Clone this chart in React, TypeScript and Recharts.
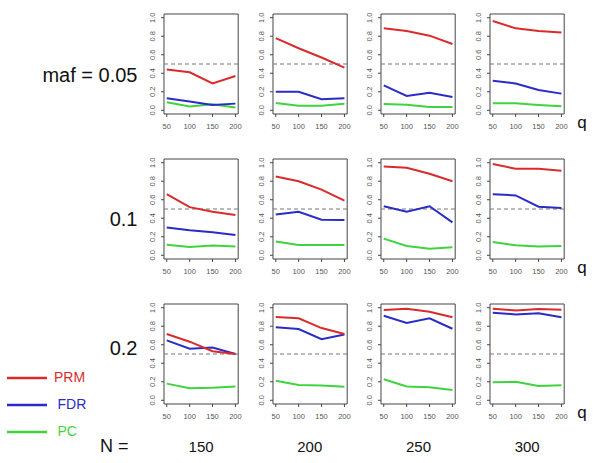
import React from 'react';
import { LineChart, Line, XAxis, YAxis, ReferenceLine, ReferenceArea } from 'recharts';

const Q = [50, 100, 150, 200];
const N_LABELS = ['150', '200', '250', '300'];
const MAF_LABELS = ['maf = 0.05', '0.1', '0.2'];
const Y_TICKS = [0, 0.2, 0.4, 0.6, 0.8, 1.0];

// each row: one array per N column (150, 200, 250, 300), values at q = 50,100,150,200
const PRM_005 = [[0.44, 0.41, 0.29, 0.37], [0.78, 0.67, 0.57, 0.46], [0.885, 0.856, 0.806, 0.716], [0.964, 0.885, 0.856, 0.84]];
const FDR_005 = [[0.13, 0.094, 0.058, 0.072], [0.2, 0.2, 0.12, 0.13], [0.27, 0.155, 0.19, 0.144], [0.32, 0.29, 0.22, 0.18]];
const PC_005 = [[0.086, 0.04, 0.065, 0.03], [0.08, 0.05, 0.05, 0.07], [0.068, 0.06, 0.036, 0.036], [0.075, 0.075, 0.058, 0.043]];

const PRM_01 = [[0.66, 0.52, 0.47, 0.435], [0.85, 0.8, 0.71, 0.59], [0.96, 0.946, 0.88, 0.8], [0.986, 0.935, 0.935, 0.914]];
const FDR_01 = [[0.3, 0.27, 0.25, 0.22], [0.44, 0.47, 0.385, 0.38], [0.53, 0.47, 0.53, 0.356], [0.66, 0.647, 0.525, 0.51]];
const PC_01 = [[0.115, 0.09, 0.105, 0.095], [0.15, 0.11, 0.11, 0.11], [0.18, 0.1, 0.072, 0.086], [0.144, 0.108, 0.094, 0.1]];

const PRM_02 = [[0.716, 0.633, 0.53, 0.5], [0.9, 0.885, 0.78, 0.716], [0.975, 0.99, 0.957, 0.896], [0.99, 0.97, 0.986, 0.978]];
const FDR_02 = [[0.647, 0.557, 0.57, 0.5], [0.79, 0.77, 0.66, 0.71], [0.914, 0.835, 0.885, 0.773], [0.946, 0.928, 0.939, 0.896]];
const PC_02 = [[0.18, 0.13, 0.135, 0.15], [0.21, 0.165, 0.16, 0.147], [0.227, 0.15, 0.14, 0.11], [0.194, 0.2, 0.155, 0.162]];

const ROWS = [
  { prm: PRM_005, fdr: FDR_005, pc: PC_005 },
  { prm: PRM_01, fdr: FDR_01, pc: PC_01 },
  { prm: PRM_02, fdr: FDR_02, pc: PC_02 },
];

const RED = '#d92b2b';
const BLUE = '#2b2bc8';
const GREEN = '#3fd43f';
const AX = '#444';

const BOX_LEFT = [164, 272.7, 381.4, 490.1];
const BOX_TOP = [14, 159, 304];
const BOX_W = 74.2;
const BOX_H = 100;
const YW = 30;
const XH = 24;
const MT = 4;
const MR = 4;

const FONT = '"Liberation Sans", Arial, sans-serif';

const YTick = (props: any) => {
  const { x, y, payload } = props;
  const tx = x - 4.3;
  return (
    <text x={tx} y={y} transform={`rotate(-90, ${tx}, ${y})`} textAnchor="middle"
      fontSize={7.5} fill="#555" fontFamily={FONT}>
      {Number(payload.value).toFixed(1)}
    </text>
  );
};

const XTick = (props: any) => {
  const { x, y, payload } = props;
  return (
    <text x={x} y={y} dy={9.7} textAnchor="middle" fontSize={7.5} fill="#555" fontFamily={FONT}>
      {payload.value}
    </text>
  );
};

function Panel({ r, c }: { r: number; c: number }) {
  const row = ROWS[r];
  const data = Q.map((q, i) => ({
    q,
    prm: row.prm[c][i],
    fdr: row.fdr[c][i],
    pc: row.pc[c][i],
  }));
  const left = BOX_LEFT[c] - YW;
  const top = BOX_TOP[r] - MT;
  return (
    <div style={{ position: 'absolute', left, top }}>
      <LineChart width={YW + BOX_W + MR} height={MT + BOX_H + XH} data={data}
        margin={{ top: MT, right: MR, bottom: 0, left: 0 }}>
        <XAxis dataKey="q" type="number" domain={[44, 206]} ticks={Q} axisLine={false}
          tickLine={{ stroke: AX }} tickSize={3} height={XH} tick={<XTick />} interval={0} />
        <YAxis type="number" domain={[-0.04, 1.04]} ticks={Y_TICKS} axisLine={false}
          tickLine={{ stroke: AX }} tickSize={3} width={YW} tick={<YTick />} interval={0} />
        <ReferenceArea x1={44} x2={206} y1={-0.04} y2={1.04} fill="none" fillOpacity={0}
          stroke={AX} strokeWidth={1} />
        <ReferenceLine y={0.5} stroke="#777" strokeDasharray="4 3" strokeWidth={1.2} />
        <Line dataKey="pc" stroke={GREEN} strokeWidth={2} dot={false} isAnimationActive={false} />
        <Line dataKey="fdr" stroke={BLUE} strokeWidth={2} dot={false} isAnimationActive={false} />
        <Line dataKey="prm" stroke={RED} strokeWidth={2} dot={false} isAnimationActive={false} />
      </LineChart>
    </div>
  );
}

const ROW_LABEL_BASE = [82, 225.7, 355];
const PANEL_CENTER = BOX_LEFT.map((l) => l + BOX_W / 2);

export default function App() {
  return (
    <div style={{ position: 'absolute', left: 0, top: 0, width: 600, height: 463, background: '#fff', overflow: 'hidden' }}>
      {ROWS.map((_, r) => N_LABELS.map((__, c) => <Panel key={`${r}-${c}`} r={r} c={c} />))}
      <svg width={600} height={463} style={{ position: 'absolute', left: 0, top: 0, pointerEvents: 'none' }}>
        {MAF_LABELS.map((t, r) => (
          <text key={t} x={137.5} y={ROW_LABEL_BASE[r]} textAnchor="end" fontSize={20} fill="#111" fontFamily={FONT}>{t}</text>
        ))}
        {BOX_TOP.map((t, r) => (
          <text key={`q${r}`} x={582} y={t + 114} textAnchor="middle" fontSize={17} fill="#111" fontFamily={FONT}>q</text>
        ))}
        {N_LABELS.map((n, c) => (
          <text key={n} x={PANEL_CENTER[c]} y={451.5} textAnchor="middle" fontSize={15} fill="#111" fontFamily={FONT}>{n}</text>
        ))}
        <text x={100} y={452} fontSize={18} fill="#111" fontFamily={FONT}>N =</text>
        <line x1={7} x2={47} y1={378} y2={378} stroke={RED} strokeWidth={2.5} />
        <line x1={7} x2={47} y1={405} y2={405} stroke={BLUE} strokeWidth={2.5} />
        <line x1={7} x2={47} y1={432} y2={432} stroke={GREEN} strokeWidth={2.5} />
        <text x={54} y={382} fontSize={14} fill={RED} fontFamily={FONT}>PRM</text>
        <text x={57.5} y={408.5} fontSize={14} fill={BLUE} fontFamily={FONT}>FDR</text>
        <text x={57.5} y={436} fontSize={14} fill={GREEN} fontFamily={FONT}>PC</text>
      </svg>
    </div>
  );
}
